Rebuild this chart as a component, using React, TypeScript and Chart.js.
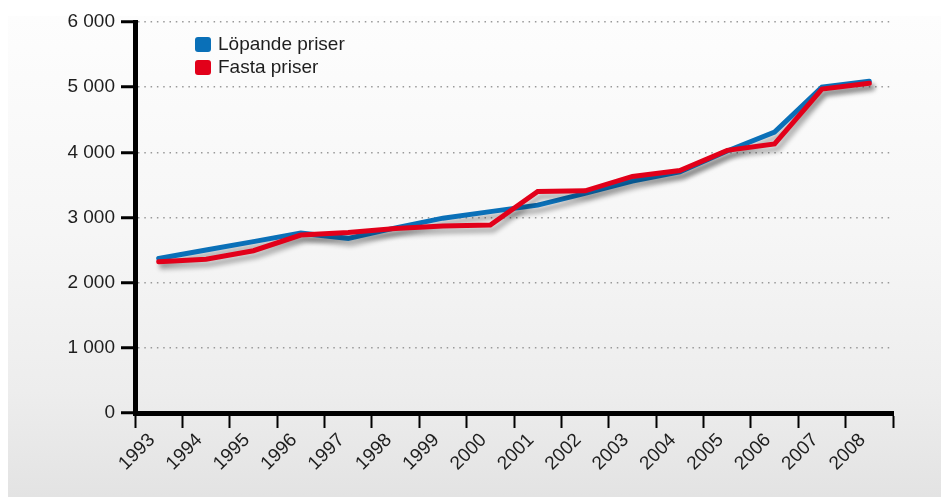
import React, { useEffect, useRef } from 'react';
import { Chart, registerables } from 'chart.js';

Chart.register(...registerables);

const years = ['1993', '1994', '1995', '1996', '1997', '1998', '1999', '2000', '2001', '2002', '2003', '2004', '2005', '2006', '2007', '2008'];
const lopandePriser = [2370, 2500, 2630, 2760, 2680, 2840, 2990, 3090, 3190, 3370, 3560, 3700, 4020, 4310, 5000, 5090];
const fastaPriser = [2320, 2360, 2490, 2730, 2770, 2830, 2870, 2885, 3400, 3410, 3630, 3720, 4030, 4130, 4970, 5060];
const yTickLabels = ['0', '1 000', '2 000', '3 000', '4 000', '5 000', '6 000'];
const seriesNames = ['Löpande priser', 'Fasta priser'];
const seriesColors = ['#0a70b8', '#e2001a'];

const FONT = '"Liberation Sans", Arial, Helvetica, sans-serif';
const TEXT = '#1e1e1e';

export default function App() {
  const ref = useRef<HTMLCanvasElement>(null);

  useEffect(() => {
    const shadowPlugin = {
      id: 'lineShadow',
      beforeDatasetDraw(chart: any) {
        const c = chart.ctx;
        c.save();
        c.shadowColor = 'rgba(0,0,0,0.33)';
        c.shadowBlur = 5;
        c.shadowOffsetX = 3;
        c.shadowOffsetY = 5;
      },
      afterDatasetDraw(chart: any) {
        chart.ctx.restore();
      },
    };

    const legendPlugin = {
      id: 'innerLegend',
      afterDraw(chart: any) {
        const c = chart.ctx;
        const { left, top } = chart.chartArea;
        c.save();
        chart.data.datasets.forEach((ds: any, i: number) => {
          const by = top + 15 + i * 23;
          c.fillStyle = ds.borderColor;
          c.beginPath();
          c.roundRect(left + 60, by, 16, 15, 3);
          c.fill();
          c.fillStyle = TEXT;
          c.font = `19px ${FONT}`;
          c.textBaseline = 'middle';
          c.textAlign = 'left';
          c.fillText(ds.label, left + 83, top + 23 + i * 23);
        });
        c.restore();
      },
    };

    const chart = new Chart(ref.current as HTMLCanvasElement, {
      type: 'line',
      data: {
        datasets: [
          {
            label: seriesNames[0],
            data: lopandePriser.map((v, i) => ({ x: i + 0.5, y: v })),
            borderColor: seriesColors[0],
            backgroundColor: seriesColors[0],
            borderWidth: 5,
            pointRadius: 0,
            borderJoinStyle: 'miter',
            borderCapStyle: 'round',
            tension: 0,
            order: 1,
          },
          {
            label: seriesNames[1],
            data: fastaPriser.map((v, i) => ({ x: i + 0.5, y: v })),
            borderColor: seriesColors[1],
            backgroundColor: seriesColors[1],
            borderWidth: 5,
            pointRadius: 0,
            borderJoinStyle: 'miter',
            borderCapStyle: 'round',
            tension: 0,
            order: 0,
          },
        ],
      },
      options: {
        responsive: false,
        animation: false,
        events: [],
        layout: { padding: { top: 22, right: 48, left: 0, bottom: 0 } },
        plugins: { legend: { display: false }, tooltip: { enabled: false } },
        scales: {
          x: {
            type: 'linear',
            min: 0,
            max: years.length,
            afterFit: (s: any) => {
              s.height = 84;
              s.paddingLeft = 0;
              s.paddingRight = 0;
            },
            ticks: {
              stepSize: 1,
              maxTicksLimit: 40,
              autoSkip: false,
              minRotation: 45,
              maxRotation: 45,
              labelOffset: 17,
              padding: 1,
              color: TEXT,
              font: { family: FONT, size: 19 },
              callback: (value: any) => years[value] ?? '',
            },
            grid: {
              display: true,
              drawOnChartArea: false,
              drawTicks: true,
              tickLength: 15,
              tickWidth: 2,
              tickColor: '#000',
            },
            border: { display: true, color: '#000', width: 5 },
          },
          y: {
            type: 'linear',
            min: 0,
            max: 6000,
            afterFit: (s: any) => {
              s.width = 127;
              s.paddingTop = 0;
              s.paddingBottom = 0;
            },
            ticks: {
              stepSize: 1000,
              padding: 6,
              color: TEXT,
              font: { family: FONT, size: 19 },
              callback: (_v: any, i: number) => yTickLabels[i],
            },
            grid: {
              display: true,
              drawOnChartArea: true,
              drawTicks: true,
              color: '#999',
              lineWidth: 1.5,
              tickLength: 14,
              tickWidth: 3,
              tickColor: '#000',
              tickBorderDash: [],
            },
            border: { display: true, color: '#000', width: 5, dash: [1.5, 4.8] },
          },
        },
      },
      plugins: [shadowPlugin, legendPlugin],
    });
    return () => chart.destroy();
  }, []);

  return (
    <div style={{ position: 'fixed', left: 8, top: 0, width: 933, height: 497 }}>
      <div
        style={{
          position: 'absolute',
          left: 0,
          top: 16,
          right: 0,
          bottom: 0,
          background: 'linear-gradient(to bottom, #fdfdfd 0%, #f6f6f6 45%, #ededed 78%, #e3e3e3 100%)',
        }}
      />
      <canvas ref={ref} width={933} height={497} style={{ position: 'absolute', left: 0, top: 0 }} />
    </div>
  );
}
